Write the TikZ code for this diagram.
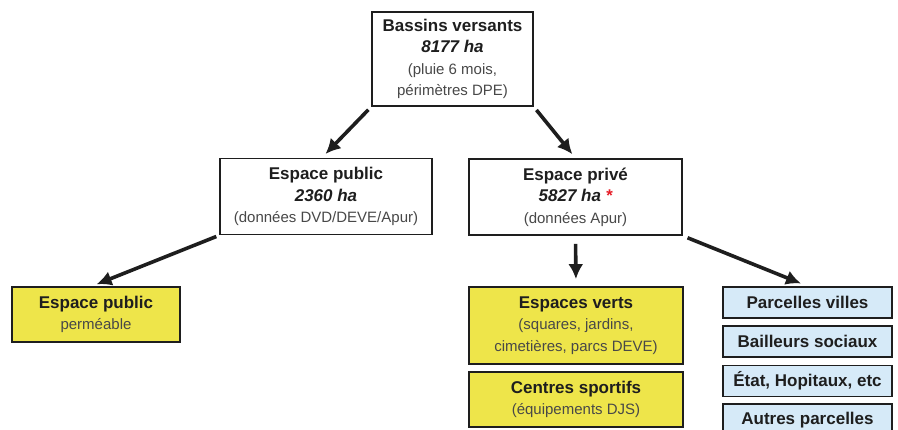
\documentclass[tikz,border=0pt]{standalone}
\usepackage{fontspec}
\setmainfont{Liberation Sans}
\usetikzlibrary{
  positioning,
  arrows.meta}
\definecolor{inkcolor}{RGB}{30,30,30}
\definecolor{subcolor}{RGB}{72,72,72}
\definecolor{surfcolor}{RGB}{238,229,74}
\definecolor{parcelcolor}{RGB}{214,234,248}
\definecolor{starcolor}{RGB}{230,30,40}
\newcommand{\boxtitle}[1]{{\fontsize{17}{21.5}\selectfont\bfseries\color{inkcolor}#1}}
\newcommand{\boxarea}[1]{{\fontsize{17}{21.5}\selectfont\bfseries\itshape\color{inkcolor}#1}}
\tikzset{
  %% basin : a catchment area with its surface
  basin/.style={
    rectangle,
    draw=inkcolor,
    line width=1.8pt,
    fill=white,
    inner sep=0pt,
    text=subcolor,
    font=\fontsize{15}{21.5}\selectfont,
    align=center
  },
  %% surface : a permeable surface
  surface/.style={
    basin,
    fill=surfcolor,
    minimum width=214,
    minimum height=77
  },
  %% parcel : a group of private parcels
  parcel/.style={
    basin,
    fill=parcelcolor,
    minimum width=169,
    minimum height=31
  },
  %% arrow : link from an area to its parts
  arrow/.style={
    -{Latex[length=15pt,width=15pt]},
    line width=3.6pt,
    draw=inkcolor
  }
}

\begin{document}
\begin{tikzpicture}
  [x=1pt,
  y=-1pt]

  \useasboundingbox (0,0) rectangle (898,430);

  %% Catchment areas
  \node (bassins) [basin, minimum width=161, minimum height=94]
  at (452.5,59) {%
    \boxtitle{Bassins versants}\\
    \boxarea{8177 ha}\\
    (pluie 6 mois,\\
    périmètres DPE)};

  \node (publicmid) [basin, minimum width=212, minimum height=76]
  at (326,196.5) {%
    \boxtitle{Espace public}\\
    \boxarea{2360 ha}\\
    (données DVD/DEVE/Apur)};

  \node (priveemid) [basin, minimum width=213, minimum height=76]
  at (575.5,197) {%
    \boxtitle{Espace privé}\\
    \boxarea{5827 ha \textcolor{starcolor}{*}}\\
    (données Apur)};

  %% Permeable surfaces
  \node (publicperm) [surface, minimum width=168, minimum height=55]
  at (96,314.5) {%
    \boxtitle{Espace public}\\
    perméable};

  \node (verts) [surface] at (576,325.5) {%
    \boxtitle{Espaces verts}\\
    (squares, jardins,\\
    cimetières, parcs DEVE)};

  \node (sport) [surface, below=6pt of verts, minimum height=55] {%
    \boxtitle{Centres sportifs}\\
    (équipements DJS)};

  %% Private parcels
  \node (villes) [parcel] at (807.5,302.5) {%
    \boxtitle{Parcelles villes}};
  \node (bailleurs) [parcel, below=6pt of villes] {%
    \boxtitle{Bailleurs sociaux}};
  \node (etat) [parcel, below=7pt of bailleurs] {%
    \boxtitle{État, Hopitaux, etc}};
  \node (autres) [parcel, below=6pt of etat] {%
    \boxtitle{Autres parcelles}};

  %% Connections
  \draw [arrow, shorten <=4pt, shorten >=5pt]
  (bassins.south west) -- ([xshift=-4pt]publicmid.north);
  \draw [arrow, shorten <=4pt, shorten >=5pt]
  (bassins.south east) -- (priveemid.north);
  \draw [arrow, shorten <=3pt, shorten >=5pt]
  (publicmid.south west) -- ([xshift=-4pt]publicperm.north);
  \draw [arrow, shorten <=8pt, shorten >=7pt]
  (priveemid.south) -- (verts.north);
  \draw [arrow, shorten <=5pt, shorten >=7pt]
  (priveemid.south east) -- (villes.north);

\end{tikzpicture}
\end{document}
